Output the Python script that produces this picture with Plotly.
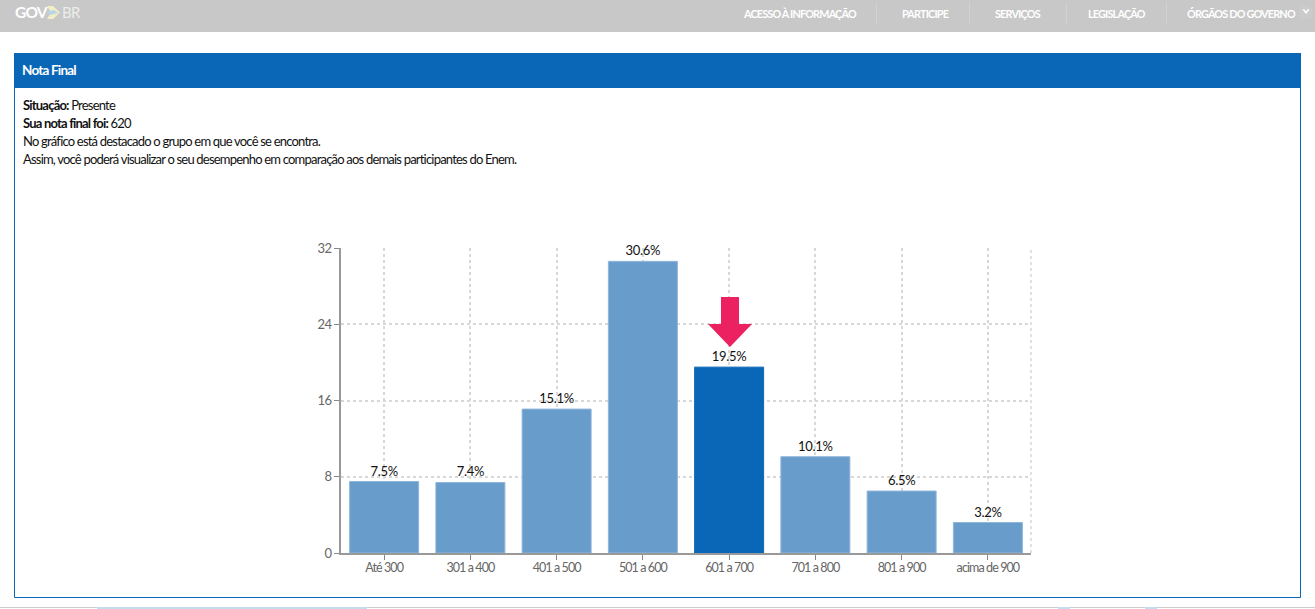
import plotly.graph_objects as go

categories = ["Até 300", "301 a 400", "401 a 500", "501 a 600", "601 a 700", "701 a 800", "801 a 900", "acima de 900"]
values = [7.5, 7.4, 15.1, 30.6, 19.5, 10.1, 6.5, 3.2]
highlight = "601 a 700"
y_ticks = [0, 8, 16, 24, 32]

W, H = 1315, 609
L, R, T, B = 341, 1031, 248, 553
FONT = "Lato"
BLUE = "#0a67b8"
LIGHT = "#689cca"
GRID = "#d8d8d8"

def px(x):
    return (x - L) / (R - L)

def py(y):
    return (B - y) / (B - T)

shapes = []
annotations = []

def rect(x0, y0, x1, y1, fill, line=None, layer="below"):
    shapes.append(dict(type="rect", xref="paper", yref="paper", x0=px(x0), x1=px(x1), y0=py(y1), y1=py(y0),
                       fillcolor=fill, line=dict(color=line or fill, width=1 if line else 0), layer=layer))

def poly(points, fill):
    shapes.append(dict(type="path", xref="paper", yref="paper", layer="above",
                       path="M " + " L ".join(f"{px(a)} {py(b)}" for a, b in points) + " Z",
                       fillcolor=fill, line=dict(width=0)))

def text(x, y, s, size=13, color="#111", anchor="left"):
    annotations.append(dict(xref="paper", yref="paper", x=px(x), y=py(y), text=s, showarrow=False,
                            xanchor=anchor, yanchor="middle", align="left",
                            font=dict(family=FONT, size=size, color=color)))

# page furniture
rect(0, 0, W, 32, "#c8c8c8")
rect(14.5, 53.5, 1300.5, 597.5, "rgba(0,0,0,0)", BLUE)
rect(14, 53, 1301, 88, BLUE)
rect(0, 607, W, 608, "#cccccc")
rect(97, 607, 367, 609, "#c5dcee")
rect(1058, 607, 1070, 609, "#c5dcee")
rect(1145, 607, 1157, 609, "#c5dcee")
for sep in [876, 969, 1066, 1166]:
    rect(sep, 2, sep + 1, 24, "#d2d2d2")
poly([(47, 6), (53, 6), (60, 12.5), (53, 19), (47, 19), (51, 12.5)], "#efeec4")
poly([(46, 12), (54, 10), (58, 13), (50, 15)], "#b9d4e8")
shapes.append(dict(type="circle", xref="paper", yref="paper", x0=px(1299), x1=px(1313), y0=py(19), y1=py(5),
                   fillcolor="#cbcbcb", line=dict(width=0)))
poly([(1302.5, 9.5), (1304, 9), (1306, 11.5), (1308, 9), (1309.5, 9.5), (1306, 14)], "#ffffff")
poly([(721, 297), (739, 297), (739, 324), (752, 324), (730, 347), (708, 324), (721, 324)], "#ec2161")
# right border of the plot grid
shapes.append(dict(type="line", xref="paper", yref="paper", x0=1, x1=1, y0=0, y1=1, layer="below",
                   line=dict(color=GRID, width=1.5, dash="3px,3px")))

text(13, 12, "<b>GOV</b>", 15.5, "#ffffff")
text(60, 12, "BR", 15, "#ececec")
for x, s in [(806.5, "ACESSO À INFORMAÇÃO"), (928, "PARTICIPE"), (1020.5, "SERVIÇOS"), (1120.5, "LEGISLAÇÃO"), (1248, "ÓRGÃOS DO GOVERNO")]:
    text(x, 13.5, f"<b>{s}</b>", 10.8, "#ffffff", "center")
text(20, 70.5, "<b>Nota Final</b>", 13.5, "#ffffff")
text(21, 105, "<b>Situação:</b> Presente")
text(21, 123, "<b>Sua nota final foi:</b> 620")
text(21, 141, "No gráfico está destacado o grupo em que você se encontra.")
text(21, 159, "Assim, você poderá visualizar o seu desempenho em comparação aos demais participantes do Enem.")

fig = go.Figure(go.Bar(
    x=categories, y=values, width=0.8,
    marker=dict(color=[BLUE if c == highlight else LIGHT for c in categories],
                line=dict(color=[BLUE if c == highlight else "#8fb6da" for c in categories], width=1)),
    text=[f"{v:.1f}%" for v in values], textposition="outside", cliponaxis=False,
    textfont=dict(family=FONT, size=13, color="#111"),
    hoverinfo="skip",
))
fig.update_layout(
    width=W, height=H, margin=dict(l=L, r=W - R, t=T, b=H - B),
    paper_bgcolor="#ffffff", plot_bgcolor="#ffffff", showlegend=False,
    font=dict(family=FONT, size=13, color="#666666"),
    shapes=shapes, annotations=annotations,
)
fig.update_xaxes(type="category", range=[-0.5, 7.5], showgrid=True, gridcolor=GRID, griddash="3px,3px", gridwidth=1.5,
                 showline=True, linecolor="#999999", linewidth=2, ticks="outside", ticklen=5, tickcolor="#888888",
                 tickfont=dict(family=FONT, size=12.5, color="#666666"), ticklabelstandoff=-3, fixedrange=True)
fig.update_yaxes(range=[0, 32], tickvals=y_ticks, showgrid=True, gridcolor=GRID, griddash="3px,3px", gridwidth=1.5,
                 showline=True, linecolor="#999999", linewidth=2, ticks="outside", ticklen=5, tickcolor="#888888",
                 tickfont=dict(family=FONT, size=13, color="#666666"), zeroline=False, fixedrange=True)

css = ".annotation-text{letter-spacing:-.8px}.xtick text{letter-spacing:-.9px}.ytick text{letter-spacing:-.6px}.bartext{letter-spacing:-.3px}"
post = ("document.body.style.margin='0';document.body.style.overflow='hidden';"
        "var s=document.createElement('style');s.textContent='" + css + "';document.head.appendChild(s);"
        "Plotly.redraw('{plot_id}');")
fig.write_html("out.html", config=dict(displayModeBar=False), post_script=post)
